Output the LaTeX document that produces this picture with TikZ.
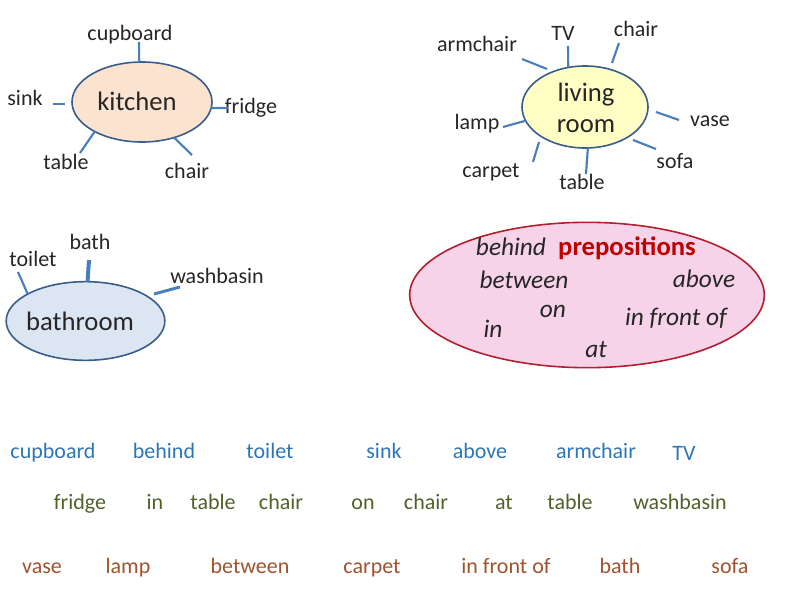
\documentclass[tikz,border=0pt]{standalone}
\usepackage{fontspec}
\setmainfont{Carlito}
\usepackage{tikz}
\usetikzlibrary{shapes.geometric, positioning}
\definecolor{spokeblue}{HTML}{4A7EBB}
\definecolor{outline}{HTML}{385D8A}
\definecolor{kitchenfill}{HTML}{FBE3D0}
\definecolor{livingfill}{HTML}{FFFFC5}
\definecolor{bathfill}{HTML}{DCE6F2}
\definecolor{prepfill}{HTML}{F6D3E8}
\definecolor{prepline}{HTML}{B0202F}
\definecolor{prepred}{HTML}{C00000}
\definecolor{wordblue}{HTML}{2E75B6}
\definecolor{wordgreen}{HTML}{4F6228}
\definecolor{wordbrown}{HTML}{A0522D}

\begin{document}
\begin{tikzpicture}[
    x=0.75pt, y=-0.75pt,
    room/.style={ellipse, draw=outline, line width=1.2pt, inner sep=0pt, outer sep=0pt},
    roomname/.style={font=\fontsize{20}{23}\selectfont, text=black!85, align=center},
    word/.style={font=\fontsize{16.5}{18}\selectfont, text height=1.6ex, text depth=0.4ex, yshift=-3pt},
    item/.style={word, text=black!85},
    spoke/.style={draw=spokeblue, line width=1.6pt},
    prep/.style={font=\fontsize{19}{21}\selectfont\itshape, text=black!85, text height=1.6ex, text depth=0.4ex, yshift=-3pt},
    rowblue/.style={word, text=wordblue},
    rowgreen/.style={word, text=wordgreen},
    rowbrown/.style={word, text=wordbrown},
]
    \useasboundingbox (0,0) rectangle (800,600);

    % Kitchen
    \node[room, fill=kitchenfill, minimum width=105pt, minimum height=60pt] (kitchen) at (142,102) {};
    \node[roomname] (kitchentxt) at (137,101) {kitchen};
    \node[item] (kcupboard) at (130,33) {cupboard};
    \node[item] (ksink) at (25,98) {sink};
    \node[item] (kfridge) at (251,106) {fridge};
    \node[item] (ktable) at (66,162) {table};
    \node[item] (kchair) at (187,171) {chair};
    \coordinate (kcupA) at (139,42);
    \coordinate (ksinkA) at (53,104);
    \coordinate (ksinkB) at (65,104);
    \coordinate (kfridgeA) at (228,108);
    \coordinate (ktableA) at (80,153);
    \coordinate (kchairA) at (192,155);
    \draw[spoke] (kitchen.94) -- (kcupA);
    \draw[spoke] (ksinkA) -- (ksinkB);
    \draw[spoke] (kitchen.-5) -- (kfridgeA);
    \draw[spoke] (kitchen.212) -- (ktableA);
    \draw[spoke] (kitchen.-48) -- (kchairA);

    % Living room
    \node[room, fill=livingfill, minimum width=94.5pt, minimum height=61.5pt] (living) at (585,107) {};
    \node[roomname] (livingtxt) at (586,108) {living\\room};
    \node[item] (larmchair) at (477,44) {armchair};
    \node[item] (ltv) at (563,33) {TV};
    \node[item] (lchair) at (636,29) {chair};
    \node[item] (llamp) at (477,122) {lamp};
    \node[item] (lvase) at (710,119) {vase};
    \node[item] (lcarpet) at (491,170) {carpet};
    \node[item] (lsofa) at (675,161) {sofa};
    \node[item] (ltable) at (582,182) {table};
    \coordinate (ltvA) at (568,46);
    \coordinate (lchairA) at (619,43);
    \coordinate (lchairB) at (612,63);
    \coordinate (larmA) at (522,59);
    \coordinate (larmB) at (547,69);
    \coordinate (llampA) at (503,127);
    \coordinate (lcarpetA) at (539,142);
    \coordinate (lcarpetB) at (533,162);
    \coordinate (ltableA) at (586,174);
    \coordinate (lsofaA) at (633,140);
    \coordinate (lsofaB) at (656,149);
    \coordinate (lvaseA) at (656,112);
    \coordinate (lvaseB) at (679,120);
    \draw[spoke] (living.113) -- (ltvA);
    \draw[spoke] (lchairA) -- (lchairB);
    \draw[spoke] (larmA) -- (larmB);
    \draw[spoke] (living.193) -- (llampA);
    \draw[spoke] (lcarpetA) -- (lcarpetB);
    \draw[spoke] (living.-86) -- (ltableA);
    \draw[spoke] (lsofaA) -- (lsofaB);
    \draw[spoke] (lvaseA) -- (lvaseB);

    % Bathroom
    \node[room, fill=bathfill, minimum width=119pt, minimum height=59pt] (bathroom) at (85.5,321) {};
    \node[roomname] (bathroomtxt) at (80,321) {bathroom};
    \node[item] (btoilet) at (33,259) {toilet};
    \node[item] (bbath) at (90,242) {bath};
    \node[item] (bwash) at (217,276) {washbasin};
    \coordinate (btoiletA) at (18,272);
    \coordinate (bbathA) at (89,260);
    \coordinate (bwashA) at (154,294);
    \coordinate (bwashB) at (180,287);
    \draw[spoke] (bathroom.155) -- (btoiletA);
    \draw[spoke, line width=3pt] (bathroom.87) -- (bbathA);
    \draw[spoke, line width=2.2pt] (bwashA) -- (bwashB);

    % Prepositions
    \node[ellipse, draw=prepline, line width=1.2pt, fill=prepfill, inner sep=0pt,
          minimum width=266pt, minimum height=109pt] (preps) at (587,295) {};
    \node[font=\fontsize{20}{22}\selectfont\bfseries, text=prepred, text height=1.6ex, text depth=0.4ex, yshift=-3pt] (prepstitle) at (627,248) {prepositions};
    \node[prep] (pbehind) at (511,248) {behind};
    \node[prep] (pbetween) at (524,281) {between};
    \node[prep] (pabove) at (704,280) {above};
    \node[prep] (pon) at (553,310) {on};
    \node[prep] (pfront) at (676,318) {in front of};
    \node[prep] (pin) at (493,330) {in};
    \node[prep] (pat) at (596,350) {at};

    % Word rows
    \foreach \x/\w [count=\i] in {53/cupboard, 164/behind, 270/toilet, 384/sink, 480/above, 596/armchair}
        \node[rowblue] (rowa\i) at (\x,451) {\w};
    \node[rowblue] (rowa7) at (684,453) {TV};
    \foreach \x/\w [count=\i] in {80/fridge, 155/in, 213/table, 281/chair, 363/on, 426/chair, 504/at, 570/table, 680/washbasin}
        \node[rowgreen] (rowb\i) at (\x,502) {\w};
    \foreach \x/\w [count=\i] in {42/vase, 128/lamp, 250/between, 372/carpet, 506/in front of, 620/bath, 730/sofa}
        \node[rowbrown] (rowc\i) at (\x,566) {\w};
\end{tikzpicture}
\end{document}
